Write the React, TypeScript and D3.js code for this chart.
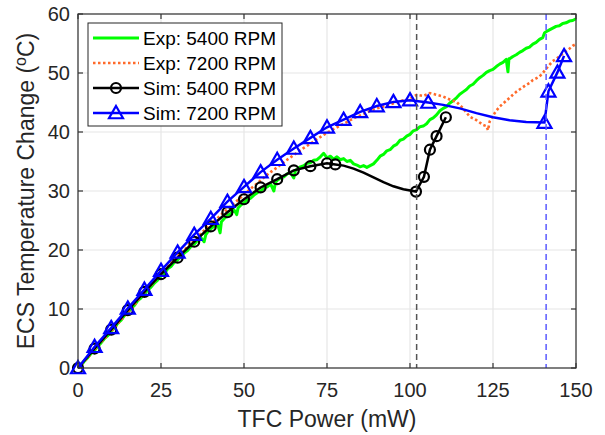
import React from "react";
import * as d3 from "d3";

// Exp: 5400 RPM (green, noisy measured trace)
const exp5400: [number, number][] = [
  [0, 0], [1, 0.5], [2, 1.2], [3, 1.8], [4, 2.5], [5, 3.0], [6, 3.7], [7, 4.3], [8, 5.0], [9, 5.5],
  [10, 6.2], [11, 6.8], [12, 7.6], [13, 8.1], [14, 8.9], [15, 9.4], [16, 10.1], [17, 10.6], [18, 11.4], [19, 11.9],
  [20, 12.5], [21, 13.2], [22, 13.7], [23, 14.4], [24, 14.9], [25, 15.6], [26, 16.0], [27, 16.8], [28, 17.2], [29, 17.9],
  [30, 18.3], [31, 18.9], [32, 19.5], [33, 19.9], [34, 20.6], [35, 21.0], [36, 21.6], [37, 22.1], [38, 21.4], [38.5, 22.6],
  [39, 23.0], [40, 23.6], [41, 24.0], [42, 24.5], [42.8, 22.9], [43.2, 24.8], [44, 25.3], [45, 25.8], [46, 26.2], [47, 26.8],
  [47.8, 26.0], [48.2, 27.1], [49, 27.6], [50, 28.0], [51, 28.5], [52, 28.8], [53, 29.3], [54, 29.7], [55, 30.0], [56, 30.5],
  [57, 30.7], [58, 31.2], [59, 30.0], [59.5, 31.5], [60, 31.8], [61, 32.2], [62, 32.4], [63, 32.9], [64, 33.1], [65, 32.2],
  [65.5, 33.5], [66, 33.7], [67, 34.1], [68, 34.3], [69, 34.7], [70, 34.8], [71, 35.2], [72, 35.3], [73, 35.8], [74, 36.4],
  [75, 35.6], [76, 35.9], [77, 35.4], [78, 35.8], [79, 35.3], [80, 35.5], [81, 35.0], [82, 35.2], [83, 34.6], [84, 34.4],
  [85, 34.1], [86, 34.3], [87, 34.0], [88, 34.3], [89, 34.6], [90, 35.2], [91, 35.9], [92, 36.2], [93, 36.8], [94, 37.0],
  [95, 37.6], [96, 37.9], [97, 38.6], [98, 38.8], [99, 39.3], [100, 39.6], [101, 40.2], [102, 40.4], [103, 40.9], [104, 41.0],
  [105, 41.4], [106, 42.1], [107, 42.4], [108, 42.9], [109, 43.6], [110, 44.0], [111, 44.3], [112, 44.9], [113, 45.3], [114, 45.8],
  [115, 46.4], [116, 46.8], [117, 47.2], [118, 47.8], [119, 48.1], [120, 48.7], [121, 49.2], [122, 49.6], [123, 50.1], [124, 50.4],
  [125, 50.6], [126, 51.1], [127, 51.5], [128, 51.8], [129, 52.3], [129.5, 50.2], [129.8, 52.4], [130, 52.4], [131, 52.8], [132, 53.1],
  [133, 53.5], [134, 53.8], [135, 54.2], [136, 54.4], [137, 54.9], [138, 55.2], [139, 55.7], [140, 56.0], [140.5, 56.8], [141, 57.0],
  [142, 57.3], [143, 57.6], [144, 57.9], [145, 58.0], [146, 58.4], [147, 58.5], [148, 58.8], [149, 58.9], [150, 59.2],
];

// Exp: 7200 RPM (orange dotted)
const exp7200: [number, number][] = [
  [0, 0], [2, 1.2], [4, 2.4], [6, 3.8], [8, 5.0], [10, 6.2], [12, 7.5], [14, 8.8], [16, 10.0], [18, 11.4],
  [20, 12.8], [22, 14.0], [24, 15.3], [26, 16.5], [28, 17.8], [30, 19.0], [32, 20.0], [34, 21.2], [36, 22.2], [38, 23.3],
  [40, 24.4], [42, 25.4], [44, 26.4], [46, 27.4], [48, 28.4], [50, 29.4], [52, 30.4], [54, 31.3], [56, 32.3], [58, 33.2],
  [60, 34.0], [62, 34.9], [64, 35.7], [66, 36.5], [68, 37.3], [70, 38.0], [72, 38.8], [74, 39.5], [76, 40.2], [78, 40.8],
  [80, 41.4], [82, 42.0], [84, 42.6], [86, 43.0], [88, 43.6], [90, 44.0], [92, 44.3], [94, 44.7], [96, 45.0], [98, 45.4],
  [100, 45.6], [102, 46.3], [104, 46.1], [106, 46.6], [108, 46.3], [110, 46.0], [112, 45.5], [114, 45.1], [116, 44.0], [117, 43.3],
  [118, 42.6], [119, 42.3], [120, 42.0], [121, 41.6], [122, 41.2], [123, 41.0], [123.5, 40.3], [124, 41.8], [125, 42.8], [126, 43.6],
  [127, 44.3], [128, 44.8], [129, 45.3], [130, 45.8], [131, 46.3], [132, 46.8], [133, 47.2], [134, 47.6], [135, 48.0], [136, 48.3],
  [137, 48.8], [138, 49.1], [139, 49.4], [140, 50.0], [141, 50.7], [142, 51.4], [143, 52.0], [144, 52.4], [145, 52.8], [146, 53.3],
  [147, 53.7], [148, 54.1], [149, 54.6], [150, 54.9],
];

// Sim: 5400 RPM, third value = marker shown
const sim5400: [number, number, number][] = [
  [0, 0, 1], [5, 3.3, 1], [10, 6.5, 1], [15, 9.8, 1], [20, 12.9, 1], [25, 15.9, 1], [30, 18.7, 1], [35, 21.4, 1],
  [40, 24.0, 1], [45, 26.4, 1], [50, 28.6, 1], [55, 30.6, 1], [60, 32.0, 1], [65, 33.5, 1], [70, 34.2, 1], [75, 34.7, 1],
  [77.5, 34.5, 1], [80, 34.3, 0], [83, 33.8, 0], [86, 33.1, 0], [89, 32.3, 0], [92, 31.5, 0], [95, 30.8, 0], [98, 30.3, 0],
  [101.8, 29.9, 1], [104.2, 32.4, 1], [106, 37.0, 1], [108, 39.3, 1], [110.8, 42.5, 1],
];

// Sim: 7200 RPM
const sim7200: [number, number, number][] = [
  [0, 0, 1], [5, 3.6, 1], [10, 6.8, 1], [15, 10.1, 1], [20, 13.3, 1], [25, 16.5, 1], [30, 19.6, 1], [35, 22.6, 1],
  [40, 25.3, 1], [45, 28.2, 1], [50, 30.7, 1], [55, 33.2, 1], [60, 35.3, 1], [65, 37.2, 1], [70, 39.0, 1], [75, 40.8, 1],
  [80, 42.1, 1], [85, 43.4, 1], [90, 44.4, 1], [95, 45.1, 1], [100, 45.4, 1], [105.5, 45.0, 1],
  [110, 44.6, 0], [115, 44.0, 0], [120, 43.2, 0], [125, 42.5, 0], [130, 42.0, 0], [135, 41.7, 0],
  [140.5, 41.6, 1], [141.7, 46.9, 1], [144.4, 50.1, 1], [146.4, 52.9, 1],
];

const xTicks = [0, 25, 50, 75, 100, 125, 150];
const yTicks = [0, 10, 20, 30, 40, 50, 60];
const vLines = [
  { x: 102, color: "#555555" },
  { x: 141, color: "#5a5aff" },
];
const legendItems = ["Exp: 5400 RPM", "Exp: 7200 RPM", "Sim: 5400 RPM", "Sim: 7200 RPM"];

const W = 605, H = 435;
const m = { left: 78, right: 576, top: 14, bottom: 368 };
const font = "'Liberation Sans', Arial, Helvetica, sans-serif";
const GREEN = "#00ff00", ORANGE = "#ff6a2a", BLACK = "#000000", BLUE = "#0000ff";

const tri = (cx: number, cy: number, s = 7) =>
  `M${cx},${cy - s}L${cx + s},${cy + s * 0.75}L${cx - s},${cy + s * 0.75}Z`;

export default function App() {
  const x = d3.scaleLinear().domain([0, 150]).range([m.left, m.right]);
  const y = d3.scaleLinear().domain([0, 60]).range([m.bottom, m.top]);
  const line = d3.line<number[]>().x((d) => x(d[0])).y((d) => y(d[1]));

  return (
    <svg width={W} height={H} style={{ position: "absolute", left: 0, top: 0, background: "#fff" }}>
      <rect x={m.left} y={m.top} width={m.right - m.left} height={m.bottom - m.top} fill="#fff" />
      {/* grid */}
      {xTicks.map((t) => (
        <line key={"gx" + t} x1={x(t)} x2={x(t)} y1={m.top} y2={m.bottom} stroke="#e6e6e6" strokeWidth={1.2} />
      ))}
      {yTicks.map((t) => (
        <line key={"gy" + t} x1={m.left} x2={m.right} y1={y(t)} y2={y(t)} stroke="#e6e6e6" strokeWidth={1.2} />
      ))}

      {/* data */}
      <path d={line(exp5400) || ""} fill="none" stroke={GREEN} strokeWidth={3} strokeLinejoin="round" />
      <path d={line(exp7200) || ""} fill="none" stroke={ORANGE} strokeWidth={2.6} strokeDasharray="2.5,2.5" />
      <path d={line(sim5400) || ""} fill="none" stroke={BLACK} strokeWidth={2.5} />
      {sim5400.filter((d) => d[2]).map((d, i) => (
        <circle key={"c" + i} cx={x(d[0])} cy={y(d[1])} r={5} fill="none" stroke={BLACK} strokeWidth={2.2} />
      ))}
      <path d={line(sim7200) || ""} fill="none" stroke={BLUE} strokeWidth={2.5} />
      {sim7200.filter((d) => d[2]).map((d, i) => (
        <path key={"t" + i} d={tri(x(d[0]), y(d[1]))} fill="none" stroke={BLUE} strokeWidth={2.2} strokeLinejoin="miter" />
      ))}

      {vLines.map((v) => (
        <line key={"v" + v.x} x1={x(v.x)} x2={x(v.x)} y1={m.top} y2={m.bottom} stroke={v.color} strokeWidth={1.5} strokeDasharray="6,4" />
      ))}

      {/* axes box and ticks */}
      <rect x={m.left} y={m.top} width={m.right - m.left} height={m.bottom - m.top} fill="none" stroke="#333" strokeWidth={1.2} />
      {xTicks.map((t) => (
        <g key={"tx" + t}>
          <line x1={x(t)} x2={x(t)} y1={m.bottom} y2={m.bottom - 5} stroke="#333" strokeWidth={1.2} />
          <line x1={x(t)} x2={x(t)} y1={m.top} y2={m.top + 5} stroke="#333" strokeWidth={1.2} />
          <text x={x(t)} y={397} textAnchor="middle" fontFamily={font} fontSize={20} fill="#262626">{t}</text>
        </g>
      ))}
      {yTicks.map((t) => (
        <g key={"ty" + t}>
          <line x1={m.left} x2={m.left + 5} y1={y(t)} y2={y(t)} stroke="#333" strokeWidth={1.2} />
          <line x1={m.right} x2={m.right - 5} y1={y(t)} y2={y(t)} stroke="#333" strokeWidth={1.2} />
          <text x={70} y={y(t) + 7} textAnchor="end" fontFamily={font} fontSize={20} fill="#262626">{t}</text>
        </g>
      ))}

      <text x={(m.left + m.right) / 2} y={427} textAnchor="middle" fontFamily={font} fontSize={23} fill="#262626">
        TFC Power (mW)
      </text>
      <text transform={`translate(34,${(m.top + m.bottom) / 2}) rotate(-90)`} textAnchor="middle" fontFamily={font} fontSize={23} fill="#262626">
        ECS Temperature Change (<tspan dy={-8} fontSize={16}>o</tspan><tspan dy={8}>C)</tspan>
      </text>

      {/* legend */}
      <g>
        <rect x={88} y={23} width={194} height={103} fill="#fff" stroke="#262626" strokeWidth={1} />
        {legendItems.map((lab, i) => {
          const cy = 38 + i * 25;
          return (
            <g key={lab}>
              {i === 0 && <line x1={93} x2={139} y1={cy} y2={cy} stroke={GREEN} strokeWidth={3} />}
              {i === 1 && <line x1={93} x2={139} y1={cy} y2={cy} stroke={ORANGE} strokeWidth={2.6} strokeDasharray="2.5,2.5" />}
              {i === 2 && (
                <>
                  <line x1={93} x2={139} y1={cy} y2={cy} stroke={BLACK} strokeWidth={2.5} />
                  <circle cx={116} cy={cy} r={5} fill="none" stroke={BLACK} strokeWidth={2.2} />
                </>
              )}
              {i === 3 && (
                <>
                  <line x1={93} x2={139} y1={cy} y2={cy} stroke={BLUE} strokeWidth={2.5} />
                  <path d={tri(116, cy)} fill="none" stroke={BLUE} strokeWidth={2.2} />
                </>
              )}
              <text x={143} y={cy + 7} fontFamily={font} fontSize={19} fill="#000">{lab}</text>
            </g>
          );
        })}
      </g>
    </svg>
  );
}
